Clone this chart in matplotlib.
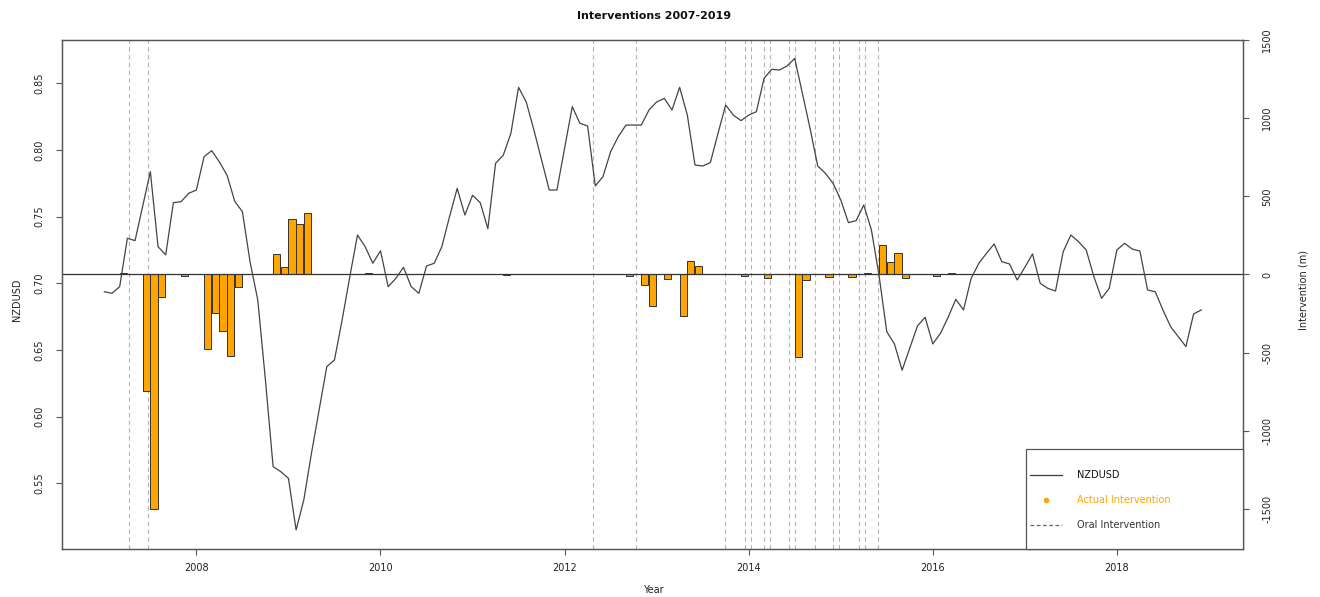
import numpy as np
import matplotlib
matplotlib.use("Agg")
import matplotlib.pyplot as plt
from matplotlib.lines import Line2D
from matplotlib.patches import Rectangle

plt.rcParams["axes.unicode_minus"] = False

# Monthly NZD/USD rate, January 2007 - December 2018
nzdusd_2007 = [0.6937, 0.6925, 0.6975, 0.7338, 0.7320, 0.7580, 0.7837, 0.7275, 0.7213, 0.7605, 0.7612, 0.7675]
nzdusd_2008 = [0.7700, 0.7950, 0.7995, 0.7910, 0.7810, 0.7615, 0.7537, 0.7160, 0.6875, 0.6275, 0.5625, 0.5587]
nzdusd_2009 = [0.5537, 0.5150, 0.5375, 0.5725, 0.6050, 0.6375, 0.6425, 0.6725, 0.7050, 0.7362, 0.7275, 0.7150]
nzdusd_2010 = [0.7244, 0.6975, 0.7037, 0.7120, 0.6975, 0.6925, 0.7130, 0.7150, 0.7275, 0.7500, 0.7712, 0.7512]
nzdusd_2011 = [0.7660, 0.7605, 0.7410, 0.7900, 0.7960, 0.8125, 0.8470, 0.8360, 0.8150, 0.7925, 0.7700, 0.7700]
nzdusd_2012 = [0.8012, 0.8325, 0.8200, 0.8180, 0.7730, 0.7800, 0.7987, 0.8100, 0.8187, 0.8187, 0.8187, 0.8300]
nzdusd_2013 = [0.8360, 0.8387, 0.8300, 0.8470, 0.8262, 0.7887, 0.7880, 0.7905, 0.8125, 0.8337, 0.8262, 0.8220]
nzdusd_2014 = [0.8262, 0.8287, 0.8537, 0.8605, 0.8600, 0.8630, 0.8687, 0.8425, 0.8162, 0.7880, 0.7825, 0.7750]
nzdusd_2015 = [0.7625, 0.7455, 0.7470, 0.7587, 0.7400, 0.7056, 0.6637, 0.6545, 0.6348, 0.6515, 0.6680, 0.6745]
nzdusd_2016 = [0.6545, 0.6625, 0.6745, 0.6880, 0.6800, 0.7037, 0.7150, 0.7225, 0.7295, 0.7162, 0.7145, 0.7025]
nzdusd_2017 = [0.7120, 0.7220, 0.7000, 0.6962, 0.6942, 0.7237, 0.7362, 0.7312, 0.7250, 0.7050, 0.6887, 0.6962]
nzdusd_2018 = [0.7250, 0.7300, 0.7257, 0.7242, 0.6950, 0.6937, 0.6800, 0.6675, 0.6600, 0.6525, 0.6770, 0.6800]

# Actual intervention by month (NZD millions); months not listed are zero
interventions = {
    "2007-03": 12, "2007-06": -745, "2007-07": -1500, "2007-08": -142, "2007-11": -8,
    "2008-02": -478, "2008-03": -244, "2008-04": -361, "2008-05": -519, "2008-06": -78,
    "2008-11": 129, "2008-12": 46, "2009-01": 355, "2009-02": 323, "2009-03": 391,
    "2009-11": 8, "2011-05": -5, "2012-09": -8, "2012-11": -67, "2012-12": -201,
    "2013-02": -31, "2013-04": -263, "2013-05": 89, "2013-06": 57, "2013-12": -10,
    "2014-03": -20, "2014-05": 6, "2014-07": -526, "2014-08": -35, "2014-11": -15,
    "2015-02": -15, "2015-04": 8, "2015-06": 189, "2015-07": 78, "2015-08": 140,
    "2015-09": -24, "2016-01": -10, "2016-03": 8,
}

# Dates of oral interventions (decimal years)
oral_dates = [2007.272, 2007.478, 2012.308, 2012.779, 2013.747, 2013.957, 2014.022,
              2014.163, 2014.228, 2014.438, 2014.500, 2014.717, 2014.916, 2014.984,
              2015.196, 2015.261, 2015.402]

rate = np.array(nzdusd_2007 + nzdusd_2008 + nzdusd_2009 + nzdusd_2010 + nzdusd_2011 +
                nzdusd_2012 + nzdusd_2013 + nzdusd_2014 + nzdusd_2015 + nzdusd_2016 +
                nzdusd_2017 + nzdusd_2018)
months = 2007 + np.arange(len(rate)) / 12.0
keys = [f"{2007 + i // 12}-{i % 12 + 1:02d}" for i in range(len(rate))]
amount = np.array([interventions.get(k, 0) for k in keys], dtype=float)

W, H = 1320, 597
fig = plt.figure(figsize=(W / 100, H / 100), dpi=100)
fig.patch.set_facecolor("white")

L, R, T, B = 62, 1243, 40, 549
ax = fig.add_axes([L / W, 1 - B / H, (R - L) / W, (B - T) / H])
ax2 = ax.twinx()

ORANGE = "#FFA500"
FRAME = "#555555"
TXT = "#222222"

# intervention bars on the right-hand scale
ax2.bar(months, amount, width=0.93 / 12, align="edge", color=ORANGE,
        edgecolor="#333333", linewidth=0.7, zorder=2)
ax2.axhline(0, color="#333333", linewidth=0.9, zorder=3)
ax2.set_ylim(-1756, 1500)
ax2.set_yticks([-1500, -1000, -500, 0, 500, 1000, 1500])

# oral interventions
for d in oral_dates:
    ax2.axvline(d, color="#b4b4b4", linewidth=0.8, linestyle=(0, (4, 3)), zorder=1)

# exchange rate on the left-hand scale, drawn above the bars
ax.set_zorder(ax2.get_zorder() + 1)
ax.patch.set_visible(False)
ax.plot(months, rate, color="#444444", linewidth=0.9, zorder=4)
ax.set_xlim(2006.54, 2019.37)
ax.set_ylim(0.5007, 0.8825)
ax.set_yticks([0.55, 0.60, 0.65, 0.70, 0.75, 0.80, 0.85])
ax.set_yticklabels(["0.55", "0.60", "0.65", "0.70", "0.75", "0.80", "0.85"])
ax.set_xticks([2008, 2010, 2012, 2014, 2016, 2018])
ax.set_xticklabels(["2008", "2010", "2012", "2014", "2016", "2018"])

for a in (ax, ax2):
    for s in a.spines.values():
        s.set_color(FRAME)
        s.set_linewidth(0.9)
    a.tick_params(colors=FRAME, labelcolor=TXT, labelsize=7, length=4, width=0.8,
                  direction="out")

ax.tick_params(axis="x", pad=6)
ax.tick_params(axis="y", pad=9)
ax2.tick_params(axis="y", pad=10)
for lab in ax.get_yticklabels():
    lab.set_rotation(90)
    lab.set_va("center")
for lab in ax2.get_yticklabels():
    lab.set_rotation(90)
    lab.set_va("center")

# title and axis labels
fig.text(0.4955, 1 - 16 / H, "Interventions 2007-2019", ha="center", va="center",
         fontsize=8, fontweight="bold", color="#111111")
fig.text(653 / W, 1 - 590 / H, "Year", ha="center", va="center", fontsize=7, color=TXT)
fig.text(17 / W, 1 - 300 / H, "NZDUSD", ha="center", va="center", rotation=90,
         fontsize=7, color=TXT)
fig.text(1303 / W, 1 - 290 / H, "Intervention (m)", ha="center", va="center",
         rotation=90, fontsize=7, color=TXT)

# legend box in the lower-right corner
def fx(px):
    return (px - L) / (R - L)

def fy(py):
    return (B - py) / (B - T)

top = ax  # draw on the uppermost axes
top.add_patch(Rectangle((fx(1026), fy(549)), fx(1243) - fx(1026), fy(449) - fy(549),
                        transform=top.transAxes, facecolor="white", edgecolor=FRAME,
                        linewidth=0.9, zorder=10, clip_on=False))
rows = [475, 500, 525]
top.add_line(Line2D([fx(1030), fx(1062)], [fy(rows[0])] * 2, transform=top.transAxes,
                    color="#3c3c3c", linewidth=0.9, zorder=11))
top.add_line(Line2D([fx(1046)], [fy(rows[1])], transform=top.transAxes, marker="o",
                    markersize=3, color=ORANGE, linestyle="none", zorder=11))
top.add_line(Line2D([fx(1030), fx(1062)], [fy(rows[2])] * 2, transform=top.transAxes,
                    color="#666666", linewidth=0.9, linestyle=(0, (3, 2)), zorder=11))
for r, text, col in zip(rows, ["NZDUSD", "Actual Intervention", "Oral Intervention"],
                        ["#111111", ORANGE, "#333333"]):
    top.text(fx(1077), fy(r), text, transform=top.transAxes, ha="left", va="center",
             fontsize=7, color=col, zorder=12)

fig.savefig("out.png", dpi=100, facecolor="white")
